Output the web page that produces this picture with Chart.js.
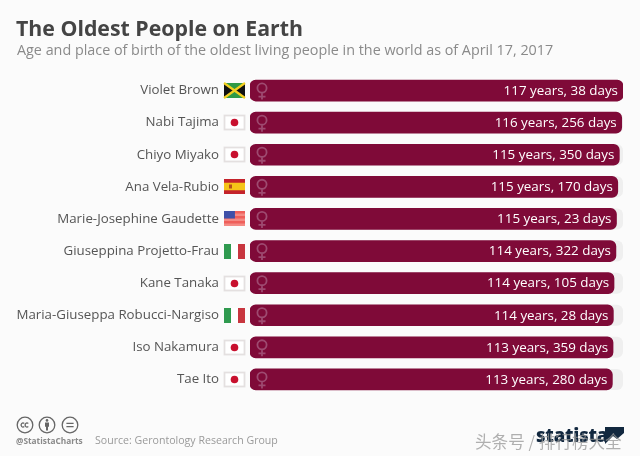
<!DOCTYPE html>
<html>
<head>
<meta charset="utf-8">
<title>The Oldest People on Earth</title>
<script src="https://cdn.jsdelivr.net/npm/chart.js@4"></script>
<style>
  html, body { margin: 0; padding: 0; background: #fbfbfb; }
  #wrap { position: relative; width: 640px; height: 456px; overflow: hidden; font-family: "Open Sans", sans-serif; }
  #wrap canvas { position: absolute; left: 0; top: 0; }
  .txt { position: absolute; white-space: nowrap; }
  #heading { left: 16px; top: 13px; font-size: 21.3px; font-weight: 700; color: #444; }
  #sub { left: 17px; top: 40px; font-size: 14.35px; color: #8a8a8a; }
  #handle { left: 16px; top: 435px; font-size: 8.3px; font-weight: 700; color: #8a8a8a; }
  #source { left: 95px; top: 433px; font-size: 10.6px; color: #9a9a9a; }
  #logo { left: 536px; top: 422px; font-size: 18.5px; font-weight: 800; color: #12283f; letter-spacing: -0.2px; }
  #mark { left: 475px; top: 429px; font-size: 16.6px; color: rgba(150,150,150,0.75); font-family: "Noto Sans CJK SC"; }
  #icons { position: absolute; left: 16px; top: 416px; }
</style>
</head>
<body>
<div id="wrap">
  <canvas id="chart" width="640" height="456"></canvas>
  <div class="txt" id="heading">The Oldest People on Earth</div>
  <div class="txt" id="sub">Age and place of birth of the oldest living people in the world as of April 17, 2017</div>
  <svg id="icons" width="66" height="20" fill="none" stroke="#666" stroke-width="1.3">
    <circle cx="9" cy="9" r="7.8"/>
    <circle cx="31" cy="9" r="7.8"/>
    <circle cx="54" cy="9" r="7.8"/>
    <path d="M8.3 7.4a2 2 0 1 0 0 3.2M12.3 7.4a2 2 0 1 0 0 3.2"/>
    <circle cx="31" cy="4.4" r="1.3" fill="#666" stroke="none"/>
    <path d="M29 6.4h4v4.4h-1v3.8h-2v-3.8h-1z" fill="#666" stroke="none"/>
    <path d="M50.4 7.4h7.2M50.4 10.6h7.2"/>
  </svg>
  <div class="txt" id="handle">@StatistaCharts</div>
  <div class="txt" id="source">Source: Gerontology Research Group</div>
  <div class="txt" id="logo">statista</div>
  <svg style="position:absolute;left:605px;top:427px" width="19" height="17">
    <rect width="19" height="17" fill="#12283f"/>
    <path d="M0 17L8 9l4 3 7-6v11z" fill="#fbfbfb"/>
  </svg>
  <div class="txt" id="mark">头条号 / 排行榜大全</div>
</div>
<script>
const names = [
    'Violet Brown', 'Nabi Tajima', 'Chiyo Miyako', 'Ana Vela-Rubio',
    'Marie-Josephine Gaudette', 'Giuseppina Projetto-Frau', 'Kane Tanaka',
    'Maria-Giuseppa Robucci-Nargiso', 'Iso Nakamura', 'Tae Ito'
];
const ageYears = [117, 116, 115, 115, 115, 114, 114, 114, 113, 113];
const ageDays = [38, 256, 350, 170, 23, 322, 105, 28, 359, 280];
const countries = ['jm', 'jp', 'jp', 'es', 'us', 'it', 'jp', 'it', 'jp', 'jp'];

const ages = ageYears.map((y, i) => y + ageDays[i] / 365);
const oldest = Math.max(...ages);

// little flag painters, each fills a w x h box at the origin
const flagPainters = {
    jm(ctx, w, h) {
        ctx.fillStyle = '#2f9a46';
        ctx.fillRect(0, 0, w, h);
        ctx.fillStyle = '#111';
        ctx.beginPath();
        ctx.moveTo(0, 0); ctx.lineTo(w / 2, h / 2); ctx.lineTo(0, h);
        ctx.moveTo(w, 0); ctx.lineTo(w / 2, h / 2); ctx.lineTo(w, h);
        ctx.fill();
        ctx.strokeStyle = '#f4d020';
        ctx.lineWidth = 2.2;
        ctx.beginPath();
        ctx.moveTo(0, 0); ctx.lineTo(w, h);
        ctx.moveTo(w, 0); ctx.lineTo(0, h);
        ctx.stroke();
    },
    jp(ctx, w, h) {
        ctx.fillStyle = '#fff';
        ctx.fillRect(0, 0, w, h);
        ctx.strokeStyle = '#e4e0e0';
        ctx.strokeRect(0.5, 0.5, w - 1, h - 1);
        ctx.fillStyle = '#c8102e';
        ctx.beginPath();
        ctx.arc(w / 2, h / 2, 3.8, 0, Math.PI * 2);
        ctx.fill();
    },
    es(ctx, w, h) {
        ctx.fillStyle = '#c4232b';
        ctx.fillRect(0, 0, w, h);
        ctx.fillStyle = '#f5c518';
        ctx.fillRect(0, h * 0.25, w, h * 0.5);
        ctx.fillStyle = '#b5521b';
        ctx.fillRect(5, h / 2 - 2, 3, 4);
    },
    us(ctx, w, h) {
        ctx.fillStyle = '#ef5f5a';
        ctx.fillRect(0, 0, w, h);
        ctx.fillStyle = '#f48a84';
        for (let i = 1; i < 6; i += 2) ctx.fillRect(0, i * h / 6, w, h / 6);
        ctx.fillStyle = '#3f50a8';
        ctx.fillRect(0, 0, w * 0.52, h * 0.5);
    },
    it(ctx, w, h) {
        ctx.fillStyle = '#fff';
        ctx.fillRect(0, 0, w, h);
        ctx.fillStyle = '#2f9a4f';
        ctx.fillRect(0, 0, w / 3, h);
        ctx.fillStyle = '#c8363f';
        ctx.fillRect(w * 2 / 3, 0, w / 3, h);
    }
};

// pale track behind the bars, as long as the longest one
const barTracks = {
    id: 'barTracks',
    beforeDatasetsDraw(chart) {
        const { ctx, scales: { x, y } } = chart;
        ctx.save();
        ctx.fillStyle = '#efefef';
        names.forEach((name, i) => {
            ctx.beginPath();
            ctx.roundRect(x.getPixelForValue(0), y.getPixelForValue(i) - 10.5,
                x.getPixelForValue(oldest) - x.getPixelForValue(0), 21, 6);
            ctx.fill();
        });
        ctx.restore();
    }
};

// flags left of the bars, venus symbol at the bar start, age text at the bar end
const rowDecorations = {
    id: 'rowDecorations',
    afterDatasetsDraw(chart) {
        const { ctx, scales: { x, y } } = chart;
        ctx.save();
        names.forEach((name, i) => {
            const cy = y.getPixelForValue(i);
            const w = 21, h = 15;
            ctx.save();
            ctx.translate(224, Math.round(cy - h / 2));
            flagPainters[countries[i]](ctx, w, h);
            ctx.restore();

            ctx.strokeStyle = '#9e4a70';
            ctx.lineWidth = 1.8;
            ctx.beginPath();
            ctx.arc(262, cy - 2.5, 4.6, 0, Math.PI * 2);
            ctx.moveTo(262, cy + 2);
            ctx.lineTo(262, cy + 9);
            ctx.moveTo(258.5, cy + 6);
            ctx.lineTo(265.5, cy + 6);
            ctx.stroke();

            ctx.fillStyle = '#fff';
            ctx.font = '13.4px "Open Sans"';
            ctx.textAlign = 'right';
            ctx.textBaseline = 'middle';
            ctx.fillText(ageYears[i] + ' years, ' + ageDays[i] + ' days', x.getPixelForValue(ages[i]) - 5, cy + 0.5);
        });
        ctx.restore();
    }
};

new Chart(document.getElementById('chart'), {
    type: 'bar',
    data: {
        labels: names,
        datasets: [{
            data: ages,
            backgroundColor: '#7f0a38',
            borderRadius: 6,
            borderSkipped: false,
            barThickness: 21
        }]
    },
    options: {
        indexAxis: 'y',
        responsive: false,
        animation: false,
        layout: { padding: { top: 74.5, bottom: 60.5, left: 0, right: 17 } },
        plugins: { legend: { display: false }, tooltip: { enabled: false } },
        scales: {
            x: { display: false, min: 0, max: oldest },
            y: {
                afterFit(axis) { axis.width = 250; },
                grid: { display: false },
                border: { display: false },
                ticks: {
                    color: '#555',
                    padding: 23,
                    font: { family: '"Open Sans"', size: 13.3 }
                }
            }
        }
    },
    plugins: [barTracks, rowDecorations]
});
</script>
</body>
</html>
